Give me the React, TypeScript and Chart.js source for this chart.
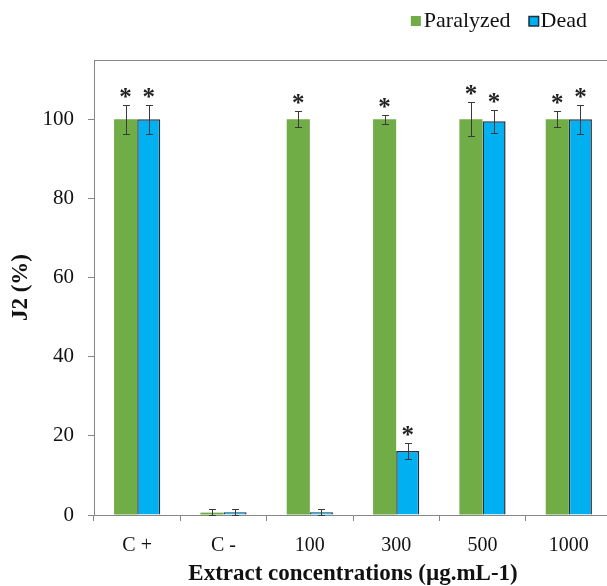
import React, { useEffect, useRef } from "react";
import { Chart, registerables } from "chart.js";

Chart.register(...registerables);

const categories = ["C +", "C -", "100", "300", "500", "1000"];
const paralyzed = [100, 0.6, 100, 100, 100, 100];
const paralyzedErr = [3.7, 0.9, 2, 1.2, 4.3, 2];
const dead = [100, 0.7, 0.7, 16.2, 99.5, 100];
const deadErr = [3.7, 0.9, 0.9, 2, 2.9, 3.7];
const paralyzedSig = ["*", "", "*", "*", "*", "*"];
const deadSig = ["*", "", "", "*", "*", "*"];
const yTicks = [0, 20, 40, 60, 80, 100];
const seriesNames = ["Paralyzed", "Dead"];

const GREEN = "#70AD47";
const BLUE = "#00B0F0";
const BLUE_BORDER = "#1F3040";
const AXIS = "#868686";
const SERIF = "'Liberation Serif', 'Times New Roman', serif";

const errSets = [paralyzedErr, deadErr];
const sigSets = [paralyzedSig, deadSig];

const decorPlugin = {
  id: "decor",
  afterDatasetsDraw(chart: any) {
    const ctx = chart.ctx;
    const y = chart.scales.y;
    const area = chart.chartArea;
    ctx.save();
    // top frame line
    ctx.strokeStyle = AXIS;
    ctx.lineWidth = 1;
    ctx.beginPath();
    ctx.moveTo(area.left, area.top + 0.5);
    ctx.lineTo(area.right, area.top + 0.5);
    ctx.stroke();
    chart.data.datasets.forEach((ds: any, di: number) => {
      const meta = chart.getDatasetMeta(di);
      meta.data.forEach((bar: any, i: number) => {
        const v = ds.data[i];
        const e = errSets[di][i];
        const x = Math.round(bar.x) + 0.5;
        const yt = Math.round(y.getPixelForValue(v + e)) + 0.5;
        const yb = Math.round(y.getPixelForValue(Math.max(0, v - e))) + 0.5;
        ctx.strokeStyle = "#3a3a3a";
        ctx.lineWidth = 1;
        ctx.beginPath();
        ctx.moveTo(x, yt);
        ctx.lineTo(x, yb);
        ctx.moveTo(x - 3.5, yt);
        ctx.lineTo(x + 3.5, yt);
        ctx.moveTo(x - 3.5, yb);
        ctx.lineTo(x + 3.5, yb);
        ctx.stroke();
        const s = sigSets[di][i];
        if (s) {
          ctx.fillStyle = "#222";
          ctx.font = `bold 25px ${SERIF}`;
          ctx.textAlign = "center";
          ctx.textBaseline = "alphabetic";
          ctx.fillText(s, bar.x, yt - 1);
        }
      });
    });
    // legend
    ctx.font = `22px ${SERIF}`;
    ctx.textBaseline = "middle";
    ctx.textAlign = "left";
    const right = 587;
    const cy = 21;
    const w2 = ctx.measureText(seriesNames[1]).width;
    const w1 = ctx.measureText(seriesNames[0]).width;
    const t2 = right - w2;
    const b2 = t2 - 12;
    const t1 = b2 - 18 - w1;
    const b1 = t1 - 13;
    ctx.fillStyle = GREEN;
    ctx.fillRect(b1, cy - 5, 10, 10);
    ctx.fillStyle = BLUE;
    ctx.fillRect(b2, cy - 5, 10, 10);
    ctx.strokeStyle = BLUE_BORDER;
    ctx.lineWidth = 1.5;
    ctx.strokeRect(b2 + 0.5, cy - 4.5, 9.5, 9.5);
    ctx.fillStyle = "#111";
    ctx.fillText(seriesNames[0], t1, cy);
    ctx.fillText(seriesNames[1], t2, cy);
    ctx.restore();
  },
};

export default function App() {
  const ref = useRef<HTMLCanvasElement | null>(null);
  useEffect(() => {
    if (!ref.current) return;
    const chart = new Chart(ref.current, {
      type: "bar",
      data: {
        labels: categories,
        datasets: [
          {
            label: seriesNames[0],
            data: paralyzed,
            backgroundColor: GREEN,
            borderWidth: 0,
            barPercentage: 1,
            categoryPercentage: 0.535,
          },
          {
            label: seriesNames[1],
            data: dead,
            backgroundColor: BLUE,
            borderColor: BLUE_BORDER,
            borderWidth: 1.5,
            barPercentage: 1,
            categoryPercentage: 0.535,
          },
        ],
      },
      options: {
        responsive: false,
        animation: false,
        devicePixelRatio: 1,
        layout: { padding: { top: 60, left: 0, right: 0, bottom: 0 } },
        plugins: {
          legend: { display: false },
          tooltip: { enabled: false },
        },
        scales: {
          x: {
            grid: {
              display: true,
              drawOnChartArea: false,
              drawTicks: true,
              tickLength: 6,
              color: AXIS,
              offset: true,
            },
            border: { display: true, color: AXIS, width: 1 },
            ticks: {
              color: "#111",
              font: { family: SERIF, size: 20 },
              padding: 13,
            },
            title: {
              display: true,
              text: "Extract concentrations (µg.mL-1)",
              color: "#111",
              font: { family: SERIF, size: 23, weight: "bold", lineHeight: 1 },
              padding: { top: 0, bottom: 0 },
            },
            afterFit(scale: any) {
              scale.height = 71;
            },
          },
          y: {
            min: 0,
            max: 115,
            grid: {
              display: true,
              drawOnChartArea: false,
              drawTicks: true,
              tickLength: 6,
              color: AXIS,
            },
            border: { display: true, color: AXIS, width: 1 },
            afterBuildTicks(scale: any) {
              scale.ticks = yTicks.map((v) => ({ value: v }));
            },
            ticks: {
              color: "#111",
              font: { family: SERIF, size: 21 },
              padding: 14,
            },
            title: {
              display: true,
              text: "J2 (%)",
              color: "#111",
              font: { family: SERIF, size: 23, weight: "bold", lineHeight: 1 },
              padding: { top: 10, bottom: 0 },
            },
            afterFit(scale: any) {
              scale.width = 94;
            },
          },
        },
      },
      plugins: [decorPlugin],
    });
    return () => chart.destroy();
  }, []);
  return (
    <div
      style={{
        position: "fixed",
        left: 0,
        top: 0,
        width: 607,
        height: 586,
        overflow: "hidden",
        background: "#fff",
      }}
    >
      <canvas ref={ref} width={612} height={586} style={{ width: 612, height: 586, display: "block" }} />
    </div>
  );
}
